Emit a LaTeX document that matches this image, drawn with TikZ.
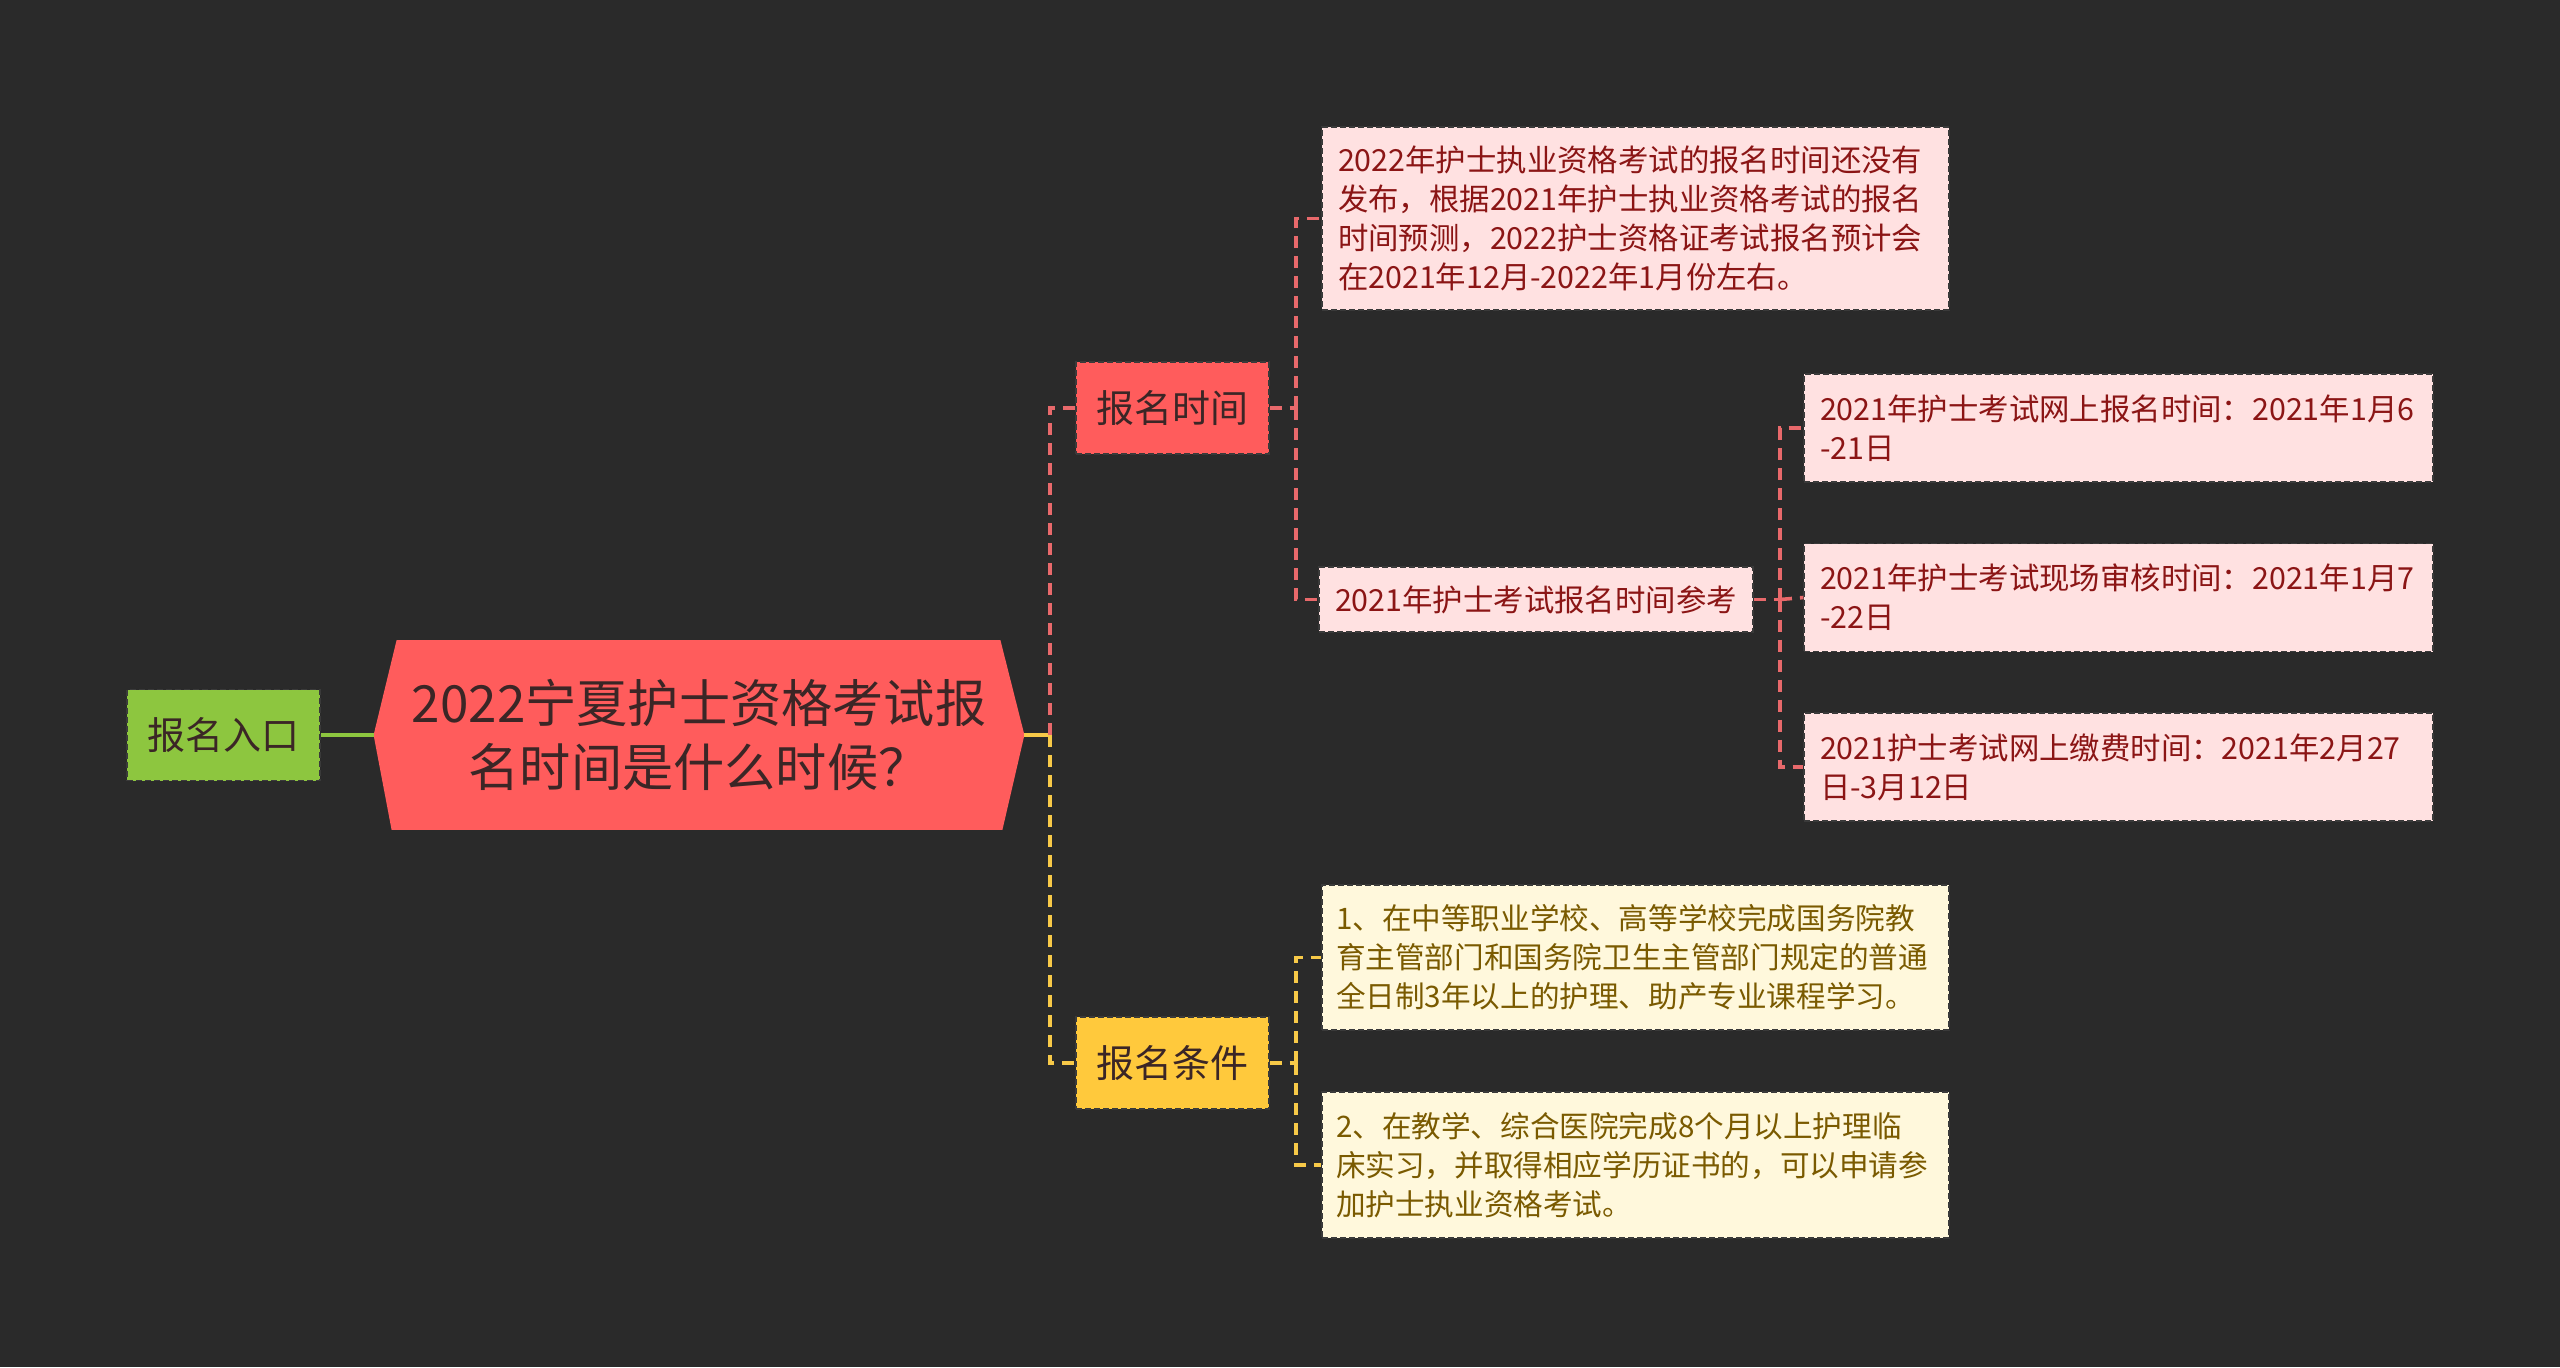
\documentclass[tikz,border=0pt]{standalone}
\usepackage{fontspec}
\setmainfont{Noto Sans CJK SC}
\usetikzlibrary{calc}
\definecolor{bgc}{HTML}{2A2A2A}
\definecolor{rootc}{HTML}{FF5C5C}
\definecolor{pinkc}{HTML}{FFE1E1}
\definecolor{pinktext}{HTML}{8B1515}
\definecolor{goldc}{HTML}{FFC93C}
\definecolor{creamc}{HTML}{FFF8DC}
\definecolor{creamtext}{HTML}{7A5A00}
\definecolor{greenc}{HTML}{8DC63F}
\definecolor{redline}{HTML}{E8696B}
\definecolor{yelline}{HTML}{F7C948}
\definecolor{darktext}{HTML}{3B2626}
\definecolor{boxborder}{HTML}{3A3A3A}
\pgfdeclarelayer{bglayer}
\pgfsetlayers{bglayer,main}
\tikzset{
  boxbase/.style={draw=boxborder, line width=0.6pt, dash pattern=on 3pt off 1.5pt, inner sep=0pt},
  topicbox/.style={boxbase, align=center, font=\fontsize{19}{24}\selectfont},
  pinkbox/.style={boxbase, fill=pinkc, text=pinktext, align=left, inner xsep=8pt, font=\fontsize{15.2}{19.5}\selectfont},
  creambox/.style={boxbase, fill=creamc, text=creamtext, align=left, inner xsep=7pt, font=\fontsize{14.8}{19.5}\selectfont},
  rconn/.style={draw=redline, line width=1.8pt, dash pattern=on 6pt off 4pt},
  yconn/.style={draw=yelline, line width=1.8pt, dash pattern=on 6pt off 4pt},
  gconn/.style={draw=greenc, line width=1.8pt},
}
\begin{document}
\begin{tikzpicture}[x=0.5pt,y=-0.5pt]
\useasboundingbox (0,0) rectangle (2560,1367);

% root node (hexagon drawn on background layer)
\node[minimum width=325pt, minimum height=94.5pt, inner sep=0pt, align=center, text=darktext,
      font=\fontsize{25.6}{32}\selectfont] (root) at (699,735)
  {2022宁夏护士资格考试报\\名时间是什么时候？};

\node[topicbox, fill=greenc, text=darktext, minimum width=96.5pt, minimum height=45.5pt] (entry) at (223.5,735) {报名入口};
\node[topicbox, fill=rootc, text=darktext, minimum width=96.5pt, minimum height=46pt] (time) at (1172.5,408) {报名时间};
\node[topicbox, fill=goldc, text=darktext, minimum width=96.5pt, minimum height=46pt] (cond) at (1172.5,1063) {报名条件};

\node[pinkbox, text width=297.5pt, minimum height=91.5pt] (a) at (1635.5,218.5)
  {2022年护士执业资格考试的报名时间还没有\\发布，根据2021年护士执业资格考试的报名\\时间预测，2022护士资格证考试报名预计会\\在2021年12月-2022年1月份左右。};
\node[pinkbox, align=center, minimum width=214pt, minimum height=32.5pt] (ref) at (1536,599.5)
  {2021年护士考试报名时间参考};

\node[pinkbox, text width=298.5pt, minimum height=54pt] (b1) at (2118.5,428)
  {2021年护士考试网上报名时间：2021年1月6\\-21日};
\node[pinkbox, text width=298.5pt, minimum height=54pt] (b2) at (2118.5,597.5)
  {2021年护士考试现场审核时间：2021年1月7\\-22日};
\node[pinkbox, text width=298.5pt, minimum height=54pt] (b3) at (2118.5,767)
  {2021护士考试网上缴费时间：2021年2月27\\日-3月12日};

\node[creambox, text width=299.5pt, minimum height=72.5pt] (c1) at (1635.5,957.5)
  {1、在中等职业学校、高等学校完成国务院教\\育主管部门和国务院卫生主管部门规定的普通\\全日制3年以上的护理、助产专业课程学习。};
\node[creambox, text width=299.5pt, minimum height=73pt] (c2) at (1635.5,1165)
  {2、在教学、综合医院完成8个月以上护理临\\床实习，并取得相应学历证书的，可以申请参\\加护士执业资格考试。};

\begin{pgfonlayer}{bglayer}
  \fill[bgc] (0,0) rectangle (2560,1367);
  \fill[rootc] (root.west) -- ($(root.north west)+(11.5pt,0)$) -- ($(root.north east)+(-12pt,0)$)
     -- (root.east) -- ($(root.south east)+(-11pt,0)$) -- ($(root.south west)+(9pt,0)$) -- cycle;
\end{pgfonlayer}

% junction points
\coordinate (j1) at (1050,735);
\coordinate (j2) at (1296,408);
\coordinate (j3) at (1780,599.5);
\coordinate (j4) at (1296,1063);

% connectors
\draw[gconn] (entry.east) -- (root.west);
\draw[yconn, dash pattern=] (root.east) -- (j1);
\draw[rconn] (j1) |- (time.west);
\draw[yconn] (j1) |- (cond.west);

\draw[rconn] (time.east) -- (j2);
\draw[rconn] (j2) |- (a.west);
\draw[rconn] (j2) |- (ref.west);

\draw[rconn] (ref.east) -- (j3);
\draw[rconn] (j3) |- (b1.west);
\draw[rconn] (j3) -- (b2.west);
\draw[rconn] (j3) |- (b3.west);

\draw[yconn] (cond.east) -- (j4);
\draw[yconn] (j4) |- (c1.west);
\draw[yconn] (j4) |- (c2.west);
\end{tikzpicture}
\end{document}
